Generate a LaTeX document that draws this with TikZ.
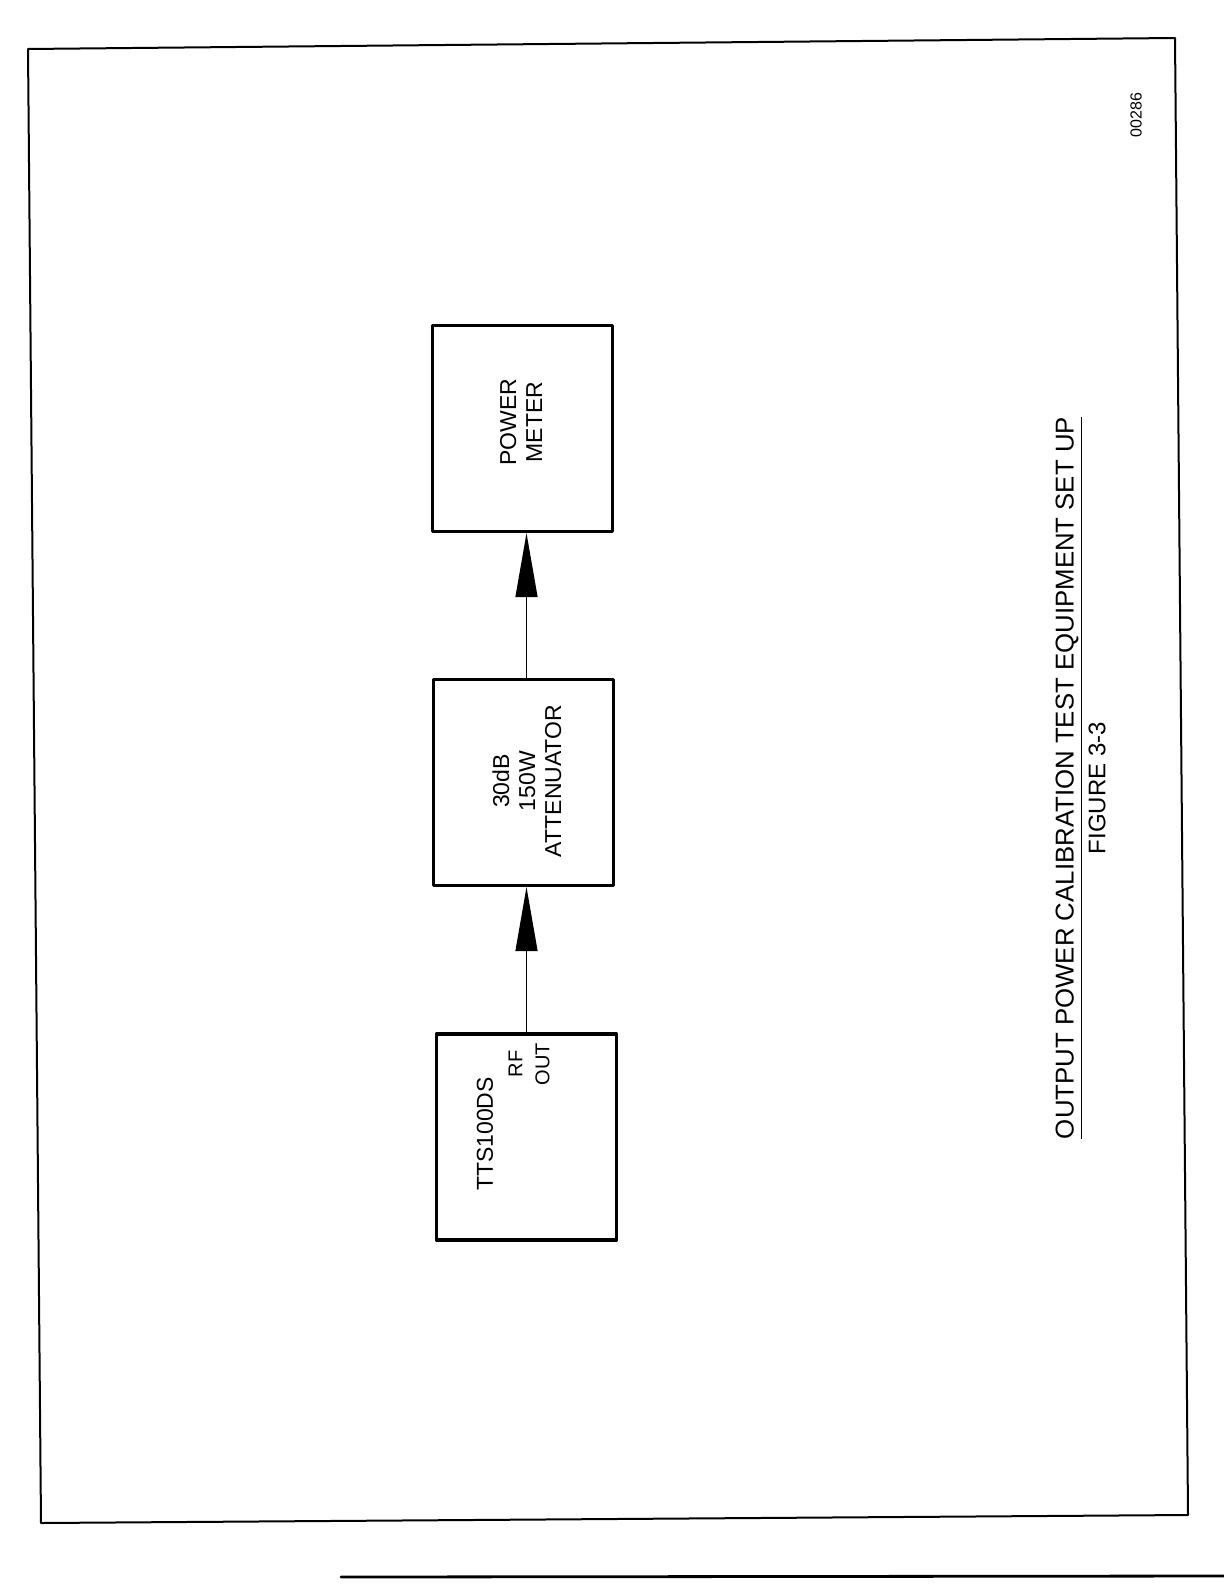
\documentclass[tikz,border=0pt]{standalone}
\usepackage{fontspec}
\setmainfont{Liberation Sans}
\usetikzlibrary{arrows.meta}

\begin{document}
\begin{tikzpicture}[x=0.5pt, y=-0.5pt, line cap=round, line join=round,
    every node/.style={font=\fontsize{11.5}{13}\selectfont},
    unit/.style={draw, line width=1.6pt, minimum width=90pt, minimum height=103pt, inner sep=0pt},
    vlabel/.style={rotate=90, align=center, inner sep=0pt},
    feed/.style={line width=0.6pt, -{Triangle[length=32pt, width=11pt]}}]
    \useasboundingbox (0,0) rectangle (1224,1584);

    % sheet border
    \draw[line width=1pt] (28,49) -- (1175,38) -- (1188,1515) -- (41,1523) -- cycle;
    \draw[line width=1.4pt] (341,1577) -- (1224,1576);

    % equipment
    \node[unit] (meter) at (522.5,428.5) {};
    \node[unit] (att) at (523.5,782.5) {};
    \node[unit] (tts) at (526.5,1137) {};

    \node[vlabel] (meterlbl) at (521,422) {POWER\\METER};
    \node[vlabel] (attlbl) at (527,781) {30dB\\150W\\ATTENUATOR};
    \node[vlabel] (ttslbl) at (485,1134) {TTS100DS};
    \node[vlabel, font=\fontsize{10}{13.5}\selectfont] (rfout) at (529,1064) {RF\\OUT};

    % signal path
    \draw[feed] (tts.north) -- (tts.north |- att.south);
    \draw[feed] (att.north -| tts.north) -- (meter.south -| tts.north);

    % caption
    \node[vlabel, font=\fontsize{12.9}{15}\selectfont] (title) at (1069,778)
        {\underline{OUTPUT POWER CALIBRATION TEST EQUIPMENT SET UP}};
    \node[vlabel, font=\fontsize{12}{14}\selectfont] (fig) at (1097,788) {FIGURE 3-3};
    \node[vlabel, font=\fontsize{8}{10}\selectfont] (dwgno) at (1136,115) {00286};
\end{tikzpicture}
\end{document}
